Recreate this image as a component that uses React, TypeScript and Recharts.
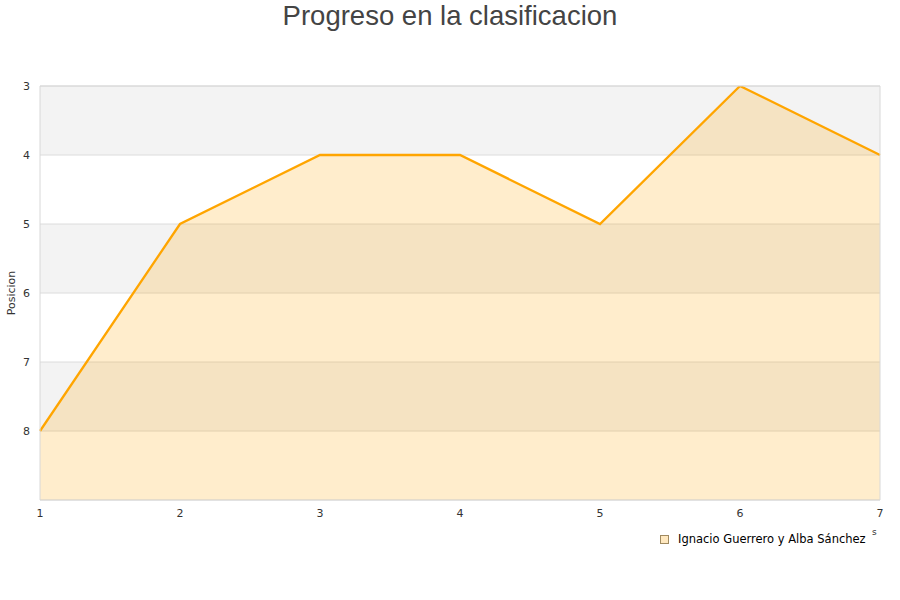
import React from 'react';
import { AreaChart, Area, XAxis, YAxis, CartesianGrid, ReferenceArea } from 'recharts';

const jornadas = [1, 2, 3, 4, 5, 6, 7];
const posiciones = [8, 5, 4, 4, 5, 3, 4];
const yTicks = [3, 4, 5, 6, 7, 8];
const seriesName = 'Ignacio Guerrero y Alba Sánchez';
const title = 'Progreso en la clasificacion';
const yTitle = 'Posicion';

const data = jornadas.map((j, i) => ({ jornada: j, pos: posiciones[i] }));

const small = { fontFamily: 'DejaVu Sans, Verdana, sans-serif', fontSize: 11, fill: '#333' };

export default function App() {
  return (
    <div style={{ position: 'absolute', left: 0, top: 0, width: 900, height: 600, background: '#fff' }}>
      <div style={{ position: 'absolute', left: 0, top: 0, width: 900, textAlign: 'center', fontFamily: 'Liberation Sans, Arial, sans-serif', fontSize: 27.5, color: '#444', lineHeight: '32px' }}>
        {title}
      </div>
      <div style={{ position: 'absolute', left: 11, top: 293, transform: 'translate(-50%, -50%) rotate(-90deg)', fontFamily: 'DejaVu Sans, Verdana, sans-serif', fontSize: 11, color: '#333', whiteSpace: 'nowrap' }}>
        {yTitle}
      </div>
      <AreaChart width={900} height={600} data={data} margin={{ top: 86, right: 20, bottom: 70, left: 0 }}>
        <CartesianGrid vertical={false} stroke="#dcdcdc" horizontalFill={['#f3f3f3', '#ffffff']} fillOpacity={1} />
        <XAxis dataKey="jornada" type="number" domain={[1, 7]} ticks={jornadas} tickLine={false} axisLine={false} tickSize={0} tickMargin={9} height={30} tick={small} interval={0} />
        <YAxis type="number" domain={[3, 9]} reversed ticks={yTicks} tickLine={false} axisLine={false} tickSize={0} tickMargin={10} width={40} tick={small} interval={0} allowDataOverflow />
        <Area type="linear" dataKey="pos" name={seriesName} stroke="#ffa500" strokeWidth={2.3} fill="#ffa500" fillOpacity={0.2} baseValue="dataMax" dot={false} activeDot={false} isAnimationActive={false} />
        <ReferenceArea x1={1} x2={7} y1={3} y2={9} fill="none" fillOpacity={0} stroke="#d8d8d8" strokeWidth={1} />
      </AreaChart>
      <div style={{ position: 'absolute', left: 660, top: 535, width: 7, height: 7, background: '#ffe8bf', border: '1px solid #a08a60' }} />
      <div style={{ position: 'absolute', left: 678, top: 531, fontFamily: 'DejaVu Sans, Verdana, sans-serif', fontSize: 11.5, color: '#000', whiteSpace: 'nowrap', lineHeight: '16px' }}>
        {seriesName}
      </div>
      <div style={{ position: 'absolute', left: 872, top: 526, fontFamily: 'DejaVu Sans, Verdana, sans-serif', fontSize: 9, color: '#333', lineHeight: '12px' }}>
        s
      </div>
    </div>
  );
}
